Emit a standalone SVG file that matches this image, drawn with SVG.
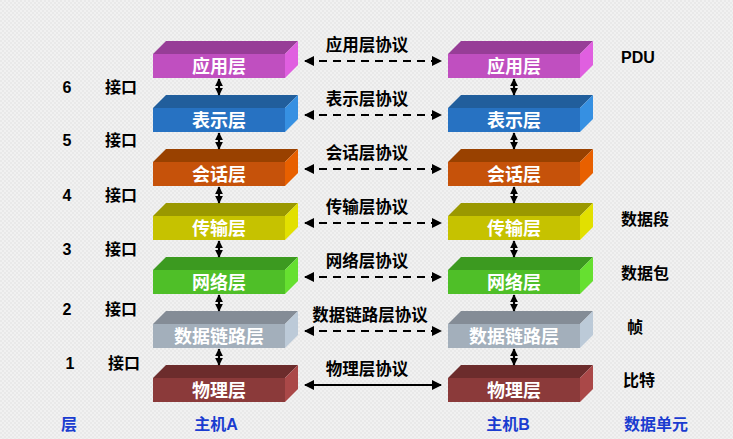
<svg xmlns="http://www.w3.org/2000/svg" width="733" height="439" viewBox="0 0 733 439">
<defs>
<style>
text{font-family:"Liberation Sans","Noto Sans CJK SC",sans-serif;font-weight:bold}
.lbl{fill:#fff;font-size:18px;text-anchor:middle}
.proto{fill:#000;font-size:16.5px;text-anchor:middle}
.side{fill:#000;font-size:16px}
.mid{text-anchor:middle}
.blue{fill:#1a3cd0;font-size:16px;text-anchor:middle}
.dash{stroke:#000;stroke-width:2;stroke-dasharray:8 6;fill:none}
.solid{stroke:#000;stroke-width:2;fill:none}
.v{stroke:#000;stroke-width:2.2;fill:none}
</style>
<marker id="ah" viewBox="0 0 10 10" refX="9" refY="5" markerWidth="5" markerHeight="5" orient="auto-start-reverse" markerUnits="strokeWidth">
<path d="M0,0 L10,5 L0,10 z" fill="#000"/>
</marker>
<marker id="vh" viewBox="0 0 10 10" refX="9" refY="5" markerWidth="3.6" markerHeight="3.6" orient="auto-start-reverse" markerUnits="strokeWidth">
<path d="M0,0 L10,5 L0,10 z" fill="#000"/>
</marker>
<pattern id="bg" width="4" height="4" patternUnits="userSpaceOnUse">
<rect width="4" height="4" fill="#f1f1f1"/>
<rect width="2" height="2" fill="#e9e9e9"/>
<rect x="2" y="2" width="2" height="2" fill="#e9e9e9"/>
</pattern>
</defs>
<rect width="733" height="439" fill="url(#bg)"/>

<!-- Host A -->
<g id="A-app">
<polygon points="153,54 166,41 298,41 285,54" fill="#973d97"/>
<polygon points="285,54 298,41 298,65 285,78" fill="#e05fe0"/>
<rect x="153" y="54" width="132" height="24" fill="#c04fc0"/>
<text class="lbl" x="219" y="72.5">应用层</text>
</g>
<g id="A-pres">
<polygon points="153,108 166,95 298,95 285,108" fill="#215e9c"/>
<polygon points="285,108 298,95 298,119 285,132" fill="#3690e2"/>
<rect x="153" y="108" width="132" height="24" fill="#2772c2"/>
<text class="lbl" x="219" y="126.5">表示层</text>
</g>
<g id="A-sess">
<polygon points="153,162 166,149 298,149 285,162" fill="#994100"/>
<polygon points="285,162 298,149 298,173 285,186" fill="#e86000"/>
<rect x="153" y="162" width="132" height="24" fill="#c6520a"/>
<text class="lbl" x="219" y="180.5">会话层</text>
</g>
<g id="A-trans">
<polygon points="153,216 166,203 298,203 285,216" fill="#9a9800"/>
<polygon points="285,216 298,203 298,227 285,240" fill="#e2e000"/>
<rect x="153" y="216" width="132" height="24" fill="#c6c200"/>
<text class="lbl" x="219" y="234.5">传输层</text>
</g>
<g id="A-net">
<polygon points="153,270 166,257 298,257 285,270" fill="#3c9a20"/>
<polygon points="285,270 298,257 298,281 285,294" fill="#66e030"/>
<rect x="153" y="270" width="132" height="24" fill="#4fbf28"/>
<text class="lbl" x="219" y="288.5">网络层</text>
</g>
<g id="A-link">
<polygon points="153,324 166,311 298,311 285,324" fill="#848c96"/>
<polygon points="285,324 298,311 298,335 285,348" fill="#bccad8"/>
<rect x="153" y="324" width="132" height="24" fill="#a3afbb"/>
<text class="lbl" x="219" y="342.5">数据链路层</text>
</g>
<g id="A-phys">
<polygon points="153,378 166,365 298,365 285,378" fill="#6c2c2c"/>
<polygon points="285,378 298,365 298,389 285,402" fill="#aa4848"/>
<rect x="153" y="378" width="132" height="24" fill="#8b3a3a"/>
<text class="lbl" x="219" y="396.5">物理层</text>
</g>

<!-- Host B -->
<g id="B-app">
<polygon points="448,54 461,41 593,41 580,54" fill="#973d97"/>
<polygon points="580,54 593,41 593,65 580,78" fill="#e05fe0"/>
<rect x="448" y="54" width="132" height="24" fill="#c04fc0"/>
<text class="lbl" x="514" y="72.5">应用层</text>
</g>
<g id="B-pres">
<polygon points="448,108 461,95 593,95 580,108" fill="#215e9c"/>
<polygon points="580,108 593,95 593,119 580,132" fill="#3690e2"/>
<rect x="448" y="108" width="132" height="24" fill="#2772c2"/>
<text class="lbl" x="514" y="126.5">表示层</text>
</g>
<g id="B-sess">
<polygon points="448,162 461,149 593,149 580,162" fill="#994100"/>
<polygon points="580,162 593,149 593,173 580,186" fill="#e86000"/>
<rect x="448" y="162" width="132" height="24" fill="#c6520a"/>
<text class="lbl" x="514" y="180.5">会话层</text>
</g>
<g id="B-trans">
<polygon points="448,216 461,203 593,203 580,216" fill="#9a9800"/>
<polygon points="580,216 593,203 593,227 580,240" fill="#e2e000"/>
<rect x="448" y="216" width="132" height="24" fill="#c6c200"/>
<text class="lbl" x="514" y="234.5">传输层</text>
</g>
<g id="B-net">
<polygon points="448,270 461,257 593,257 580,270" fill="#3c9a20"/>
<polygon points="580,270 593,257 593,281 580,294" fill="#66e030"/>
<rect x="448" y="270" width="132" height="24" fill="#4fbf28"/>
<text class="lbl" x="514" y="288.5">网络层</text>
</g>
<g id="B-link">
<polygon points="448,324 461,311 593,311 580,324" fill="#848c96"/>
<polygon points="580,324 593,311 593,335 580,348" fill="#bccad8"/>
<rect x="448" y="324" width="132" height="24" fill="#a3afbb"/>
<text class="lbl" x="514" y="342.5">数据链路层</text>
</g>
<g id="B-phys">
<polygon points="448,378 461,365 593,365 580,378" fill="#6c2c2c"/>
<polygon points="580,378 593,365 593,389 580,402" fill="#aa4848"/>
<rect x="448" y="378" width="132" height="24" fill="#8b3a3a"/>
<text class="lbl" x="514" y="396.5">物理层</text>
</g>

<!-- Connectors -->
<g id="connectors">
<line class="dash" x1="305" y1="61" x2="441" y2="61" marker-start="url(#ah)" marker-end="url(#ah)"/>
<line class="dash" x1="305" y1="115" x2="441" y2="115" marker-start="url(#ah)" marker-end="url(#ah)"/>
<line class="dash" x1="305" y1="169" x2="441" y2="169" marker-start="url(#ah)" marker-end="url(#ah)"/>
<line class="dash" x1="305" y1="223" x2="441" y2="223" marker-start="url(#ah)" marker-end="url(#ah)"/>
<line class="dash" x1="305" y1="277" x2="441" y2="277" marker-start="url(#ah)" marker-end="url(#ah)"/>
<line class="dash" x1="305" y1="331" x2="441" y2="331" marker-start="url(#ah)" marker-end="url(#ah)"/>
<line class="solid" x1="305" y1="385" x2="441" y2="385" marker-start="url(#ah)" marker-end="url(#ah)"/>

<line class="v" x1="219" y1="79" x2="219" y2="95" marker-start="url(#vh)" marker-end="url(#vh)"/>
<line class="v" x1="219" y1="133" x2="219" y2="149" marker-start="url(#vh)" marker-end="url(#vh)"/>
<line class="v" x1="219" y1="187" x2="219" y2="203" marker-start="url(#vh)" marker-end="url(#vh)"/>
<line class="v" x1="219" y1="241" x2="219" y2="257" marker-start="url(#vh)" marker-end="url(#vh)"/>
<line class="v" x1="219" y1="295" x2="219" y2="311" marker-start="url(#vh)" marker-end="url(#vh)"/>
<line class="v" x1="219" y1="349" x2="219" y2="365" marker-start="url(#vh)" marker-end="url(#vh)"/>
<line class="v" x1="514" y1="79" x2="514" y2="95" marker-start="url(#vh)" marker-end="url(#vh)"/>
<line class="v" x1="514" y1="133" x2="514" y2="149" marker-start="url(#vh)" marker-end="url(#vh)"/>
<line class="v" x1="514" y1="187" x2="514" y2="203" marker-start="url(#vh)" marker-end="url(#vh)"/>
<line class="v" x1="514" y1="241" x2="514" y2="257" marker-start="url(#vh)" marker-end="url(#vh)"/>
<line class="v" x1="514" y1="295" x2="514" y2="311" marker-start="url(#vh)" marker-end="url(#vh)"/>
<line class="v" x1="514" y1="349" x2="514" y2="365" marker-start="url(#vh)" marker-end="url(#vh)"/>
</g>

<!-- Protocol labels -->
<g id="protocols">
<text class="proto" x="367" y="51">应用层协议</text>
<text class="proto" x="367" y="105">表示层协议</text>
<text class="proto" x="367" y="159">会话层协议</text>
<text class="proto" x="367" y="213">传输层协议</text>
<text class="proto" x="367" y="267">网络层协议</text>
<text class="proto" x="370" y="321">数据链路层协议</text>
<text class="proto" x="367" y="375">物理层协议</text>
</g>

<!-- Interfaces -->
<g id="interfaces">
<text class="side mid" x="67" y="93">6</text><text class="side mid" x="121" y="93">接口</text>
<text class="side mid" x="67" y="146">5</text><text class="side mid" x="121" y="146">接口</text>
<text class="side mid" x="67" y="201">4</text><text class="side mid" x="121" y="201">接口</text>
<text class="side mid" x="67" y="255">3</text><text class="side mid" x="121" y="255">接口</text>
<text class="side mid" x="67" y="315">2</text><text class="side mid" x="121" y="315">接口</text>
<text class="side mid" x="70" y="369">1</text><text class="side mid" x="124" y="369">接口</text>
</g>

<!-- PDU -->
<g id="pdu">
<text class="side" x="621" y="63">PDU</text>
<text class="side" x="621" y="225">数据段</text>
<text class="side" x="621" y="279">数据包</text>
<text class="side" x="627" y="333">帧</text>
<text class="side" x="623" y="386">比特</text>
</g>

<!-- Bottom headings -->
<g id="headings">
<text class="blue" x="69" y="430">层</text>
<text class="blue" x="216" y="430">主机A</text>
<text class="blue" x="508" y="430">主机B</text>
<text class="blue" x="656" y="430">数据单元</text>
</g>
</svg>
